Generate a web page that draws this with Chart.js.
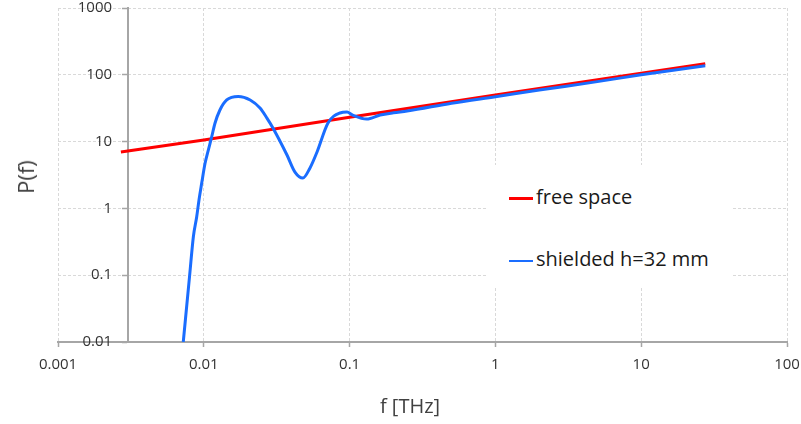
<!DOCTYPE html>
<html>
<head>
<meta charset="utf-8">
<script src="https://cdn.jsdelivr.net/npm/chart.js@4"></script>
<style>
  body { margin: 0; background: #fff; }
  #wrap { position: relative; width: 801px; height: 424px; font-family: 'Open Sans', sans-serif; color: #404040; }
  #ytitle { position: absolute; left: 25px; top: 177px; font-size: 22px; transform: translate(-50%, -50%) rotate(-90deg); white-space: nowrap; }
  #xtitle { position: absolute; left: 410px; top: 405px; font-size: 20px; transform: translate(-50%, -50%); white-space: nowrap; }
  #legend { position: absolute; left: 486px; top: 165px; width: 246px; height: 122px; background: #fff; }
  .item { position: absolute; left: 23px; height: 28px; line-height: 28px; font-size: 20px; color: #1a1a1a; white-space: nowrap; }
  .item i { display: inline-block; width: 24px; vertical-align: middle; margin-right: 3px; }
</style>
</head>
<body>
<div id="wrap">
  <canvas id="chart"></canvas>
  <div id="ytitle">P(f)</div>
  <div id="xtitle">f [THz]</div>
  <div id="legend">
    <div class="item" style="top:18px"><i style="border-top:3px solid #ff0000"></i>free space</div>
    <div class="item" style="top:80px"><i style="border-top:2px solid #1a6dff"></i>shielded h=32 mm</div>
  </div>
</div>
<script>
'use strict';

// ── tick values (decades only) ──
const fTicks = [0.001, 0.01, 0.1, 1, 10, 100];
const pTicks = [0.01, 0.1, 1, 10, 100, 1000];

// ── free space ──
const freeF = [0.0027, 0.01, 0.1, 1, 10, 27.5];
const freeP = [7.0, 10.6, 23.2, 50, 106, 146];

// ── shielded, h = 32 mm ──
const shieldF = [0.00723, 0.0080, 0.00848, 0.00894, 0.00927, 0.00967, 0.0102, 0.01074, 0.01133, 0.01193,
                 0.0129, 0.01436, 0.0172, 0.0208, 0.0243, 0.0271, 0.0298, 0.0372, 0.0422, 0.0478,
                 0.0534, 0.0598, 0.0711, 0.0859, 0.096, 0.105, 0.131, 0.162, 0.2, 0.248,
                 0.5, 1, 2, 5, 10, 27.5];
const shieldP = [0.01, 0.1, 0.377, 0.751, 1.34, 2.37, 4.73, 7.48, 11.8, 18.8,
                 29.7, 42, 47.5, 42, 31.8, 22.5, 16, 6.3, 3.5, 2.85,
                 4.0, 7.0, 19, 26.8, 27.7, 25, 21.8, 25, 27, 28.7,
                 37.5, 47, 59, 79, 100, 137];

const GRID = '#d9d9d9';
const AXIS = '#a6a6a6';
const TICK_FONT = { family: "'Open Sans', sans-serif", size: 15 };

const pts = (xs, ys) => xs.map((x, i) => ({ x, y: ys[i] }));

// labels/ticks must not push the plot area inwards
function noPadding(s) {
  s.paddingTop = s.paddingBottom = s.paddingLeft = s.paddingRight = 0;
}

const gridOpts = { color: GRID, tickColor: AXIS, tickLength: 5, tickBorderDash: [], tickWidth: 1.5 };

new Chart(document.getElementById('chart'), {
  type: 'line',
  data: {
    datasets: [
      {
        label: 'free space',
        data: pts(freeF, freeP),
        borderColor: '#ff0000',
        borderWidth: 3,
        pointRadius: 0,
        order: 2,
      },
      {
        label: 'shielded h=32 mm',
        data: pts(shieldF, shieldP),
        borderColor: '#1a6dff',
        borderWidth: 3,
        pointRadius: 0,
        cubicInterpolationMode: 'monotone',
        order: 1,
      },
    ],
  },
  options: {
    responsive: true, maintainAspectRatio: false,
    animation: false,
    layout: { padding: { left: 58, right: 14, top: 8, bottom: 0 } },
    plugins: { legend: { display: false }, tooltip: { enabled: false } },
    scales: {
      x: {
        type: 'logarithmic',
        min: 0.001, max: 100,
        afterBuildTicks: s => { s.ticks = fTicks.map(v => ({ value: v })); },
        afterFit: s => { s.height = 82; noPadding(s); },
        grid: gridOpts,
        border: { display: true, color: AXIS, width: 2, dash: [3, 2] },
        ticks: { color: '#333', font: TICK_FONT, padding: 9, maxRotation: 0, callback: v => String(v) },
      },
      // value axis: line, tick marks and grid; crosses the f axis at 0.003
      y: {
        type: 'logarithmic',
        min: 0.01, max: 1000,
        position: { x: 0.003 },
        afterBuildTicks: s => { s.ticks = pTicks.map(v => ({ value: v })); },
        afterFit: noPadding,
        grid: gridOpts,
        border: { display: true, color: AXIS, width: 2, dash: [3, 2] },
        ticks: { display: false },
      },
      // tick labels for the value axis, set a little left of the axis line
      yl: {
        type: 'logarithmic',
        min: 0.01, max: 1000,
        position: { x: 0.00235 },
        afterBuildTicks: s => { s.ticks = pTicks.map(v => ({ value: v })); },
        afterFit: noPadding,
        grid: { display: false },
        border: { display: false },
        ticks: { color: '#333', font: TICK_FONT, padding: 0, callback: v => String(v) },
      },
    },
  },
});
</script>
</body>
</html>
